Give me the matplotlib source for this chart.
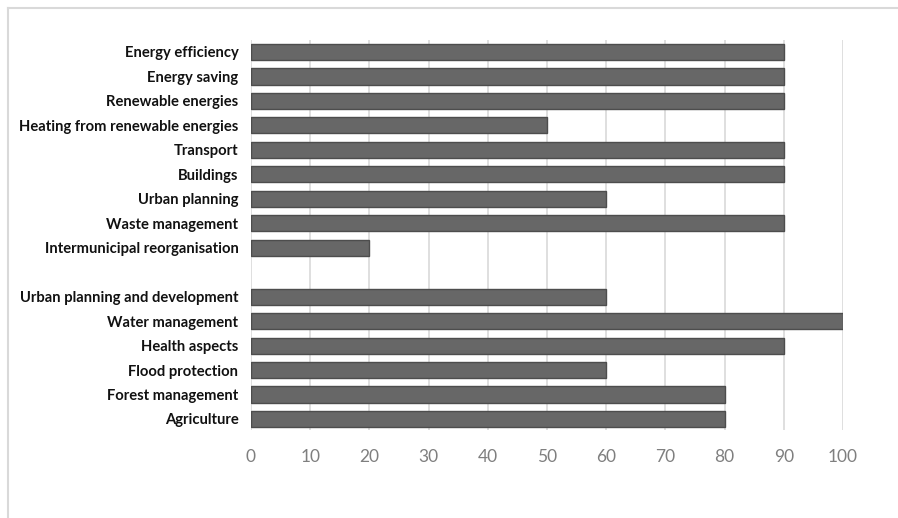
import matplotlib.pyplot as plt
from matplotlib.lines import Line2D
from matplotlib import font_manager

# measures, top to bottom; "" marks the blank row between the two groups
measures = [
    "Energy efficiency",
    "Energy saving",
    "Renewable energies",
    "Heating from renewable energies",
    "Transport",
    "Buildings",
    "Urban planning",
    "Waste management",
    "Intermunicipal reorganisation",
    "",
    "Urban planning and development",
    "Water management",
    "Health aspects",
    "Flood protection",
    "Forest management",
    "Agriculture",
]
shares = [90, 90, 90, 50, 90, 90, 60, 90, 20, None, 60, 100, 90, 60, 80, 80]
x_ticks = [0, 10, 20, 30, 40, 50, 60, 70, 80, 90, 100]

installed = {f.name for f in font_manager.fontManager.ttflist}
label_font = "Lato" if "Lato" in installed else "DejaVu Sans"

fig = plt.figure(figsize=(8.98, 5.18), dpi=100)
ax = fig.add_axes([251 / 898, 1 - 430 / 518, (843 - 251) / 898, (430 - 40) / 518])

rows = list(range(len(measures)))
for row, value in zip(rows, shares):
    if value is None:
        continue
    ax.barh(row, value, height=0.66, color="#676767", edgecolor="#4d4d4d",
            linewidth=1.0, zorder=3)

ax.set_xlim(0, 100)
ax.set_ylim(15.45, -0.49)
ax.set_yticks(rows)
ax.set_yticklabels(measures, fontsize=10.6, fontweight="bold", family=label_font,
                   color="#111111")
ax.set_xticks(x_ticks)
ax.set_xticklabels([str(t) for t in x_ticks], fontsize=12.5, color="#7f7f7f",
                   family=label_font)
ax.tick_params(axis="both", length=0)
ax.tick_params(axis="x", pad=14)
ax.tick_params(axis="y", pad=9)
ax.grid(axis="x", color="#d9d9d9", linewidth=1.2, zorder=0)
for side in ax.spines.values():
    side.set_visible(False)

# chart-area frame: only the top and left edges are in view
fig.add_artist(Line2D([8 / 898, 8 / 898], [0, 1 - 8 / 518], transform=fig.transFigure,
                      color="#d9d9d9", linewidth=1.5))
fig.add_artist(Line2D([8 / 898, 1], [1 - 8 / 518, 1 - 8 / 518], transform=fig.transFigure,
                      color="#d9d9d9", linewidth=1.5))

fig.savefig("out.png", dpi=100)
